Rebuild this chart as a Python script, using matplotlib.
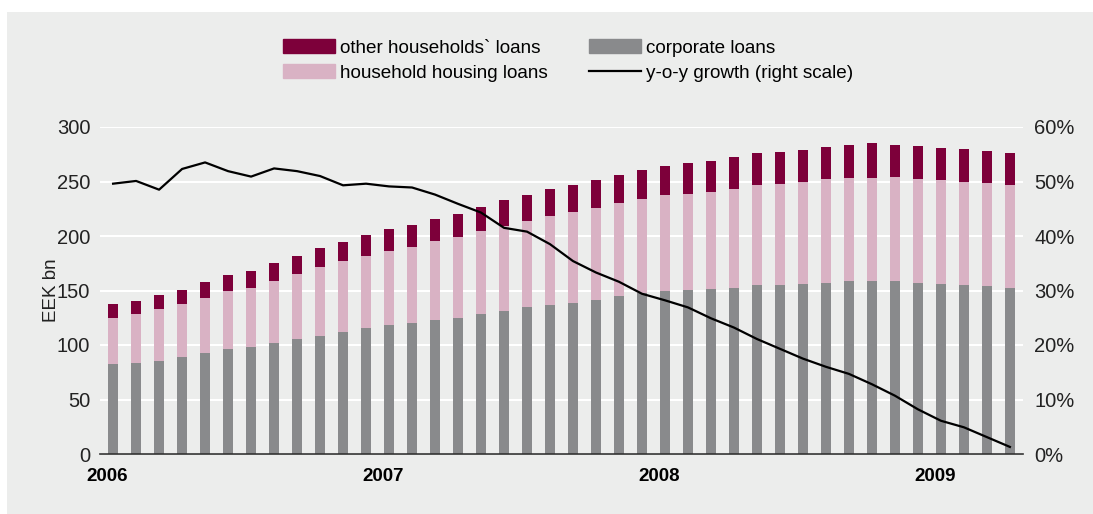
import numpy as np
import matplotlib.pyplot as plt
from matplotlib.patches import Patch, Rectangle
from matplotlib.lines import Line2D
from matplotlib.ticker import FuncFormatter

plt.rcParams['font.family'] = ['Liberation Sans', 'DejaVu Sans']

# monthly stock of loans, EEK bn, Jan 2006 - Apr 2009
corporate = [82.7, 83.6, 85.5, 89.1, 92.8, 96.5, 98.3, 102.0, 105.6, 108.4,
             112.0, 115.7, 118.4, 120.3, 123.0, 124.8, 128.5, 131.3, 134.9, 136.8,
             138.6, 141.3, 145.0, 147.7, 149.6, 150.5, 151.4, 152.3, 155.1, 155.1,
             156.0, 156.9, 158.7, 158.7, 158.7, 156.9, 156.0, 155.1, 154.2, 152.3]
housing_top = [124.8, 128.5, 133.1, 137.7, 143.2, 149.6, 152.3, 158.7, 165.1, 171.6,
               177.0, 181.6, 186.2, 189.9, 195.4, 199.0, 204.5, 209.1, 213.7, 218.3,
               221.9, 225.6, 230.2, 233.8, 237.5, 238.4, 240.2, 243.0, 246.6, 247.6,
               249.4, 252.1, 253.1, 253.1, 254.0, 252.1, 251.2, 249.4, 248.5, 246.6]
total = [137.7, 140.4, 145.9, 150.5, 157.8, 164.2, 167.9, 175.2, 181.6, 188.9,
         194.4, 200.9, 206.3, 210.0, 215.5, 220.1, 226.5, 232.9, 237.5, 243.0,
         246.6, 251.2, 255.8, 260.4, 264.0, 266.8, 268.6, 272.3, 275.9, 276.9,
         278.7, 281.4, 283.3, 285.1, 283.3, 282.4, 280.5, 279.6, 277.8, 275.9]
# y-o-y growth, %
growth = [49.6, 50.1, 48.5, 52.3, 53.5, 51.9, 50.9, 52.4, 51.9, 51.0,
          49.3, 49.6, 49.1, 48.9, 47.6, 45.9, 44.3, 41.5, 40.8, 38.5,
          35.4, 33.3, 31.6, 29.4, 28.2, 26.9, 24.9, 23.2, 21.1, 19.3,
          17.5, 16.0, 14.7, 12.8, 10.7, 8.2, 6.1, 4.9, 3.1, 1.3]
years = ["2006", "2007", "2008", "2009"]

housing = np.array(housing_top) - np.array(corporate)
other = np.array(total) - np.array(housing_top)
x = np.arange(len(corporate))

bg = "#ecedec"
c_other = "#7d003a"
c_housing = "#d9b2c4"
c_corp = "#898a8c"

fig = plt.figure(figsize=(10.93, 5.14), dpi=100)
fig.patch.set_facecolor("white")
fig.patches.append(Rectangle((7 / 1093, 0), 1, 502 / 514, transform=fig.transFigure,
                             facecolor=bg, edgecolor="none", zorder=-10))

ax = fig.add_axes([100 / 1093, 60 / 514, 923 / 1093, 327 / 514])
ax.set_facecolor(bg)
w = 0.44
ax.bar(x, corporate, w, color=c_corp, zorder=2)
ax.bar(x, housing, w, bottom=corporate, color=c_housing, zorder=2)
ax.bar(x, other, w, bottom=housing_top, color=c_other, zorder=2)

ax.set_xlim(-0.57, 39.57)
ax.set_ylim(0, 300)
ax.set_yticks(range(0, 301, 50))
ax.yaxis.grid(True, color="white", lw=1.5, zorder=0)
for s in ["left", "right", "top"]:
    ax.spines[s].set_visible(False)
ax.spines["bottom"].set_color("#333333")
ax.spines["bottom"].set_linewidth(1.2)
ax.spines["bottom"].set_zorder(5)
ax.tick_params(axis="y", length=0, labelsize=14.5, pad=7, labelcolor="#222222")
ax.set_xticks([i * 12 - 0.25 for i in range(len(years))])
ax.set_xticklabels(years, fontsize=13.5, fontweight="bold")
ax.tick_params(axis="x", length=0, pad=10)
ax.set_ylabel("EEK bn", fontsize=13.5, labelpad=-2, color="#222222")

ax2 = ax.twinx()
ax2.plot(x, growth, color="black", lw=1.6, zorder=6)
ax2.set_ylim(0, 60)
ax2.set_yticks(range(0, 61, 10))
ax2.yaxis.set_major_formatter(FuncFormatter(lambda v, p: f"{v:.0f}%"))
ax2.tick_params(axis="y", length=0, labelsize=14.5, pad=8, labelcolor="#222222")
for s in ax2.spines.values():
    s.set_visible(False)

handles = [Patch(color=c_other), Patch(color=c_housing), Patch(color=c_corp),
           Line2D([], [], color="black", lw=1.6)]
labels = ["other households` loans", "household housing loans", "corporate loans",
          "y-o-y growth (right scale)"]
fig.legend(handles, labels, ncol=2, loc="upper left", bbox_to_anchor=(266 / 1093, 1 - 22 / 514),
           frameon=False, fontsize=13.6, handlelength=2.75, handleheight=0.75,
           columnspacing=2.2, labelspacing=0.42, handletextpad=0.27)

fig.savefig("out.png", dpi=100, facecolor=fig.get_facecolor())
